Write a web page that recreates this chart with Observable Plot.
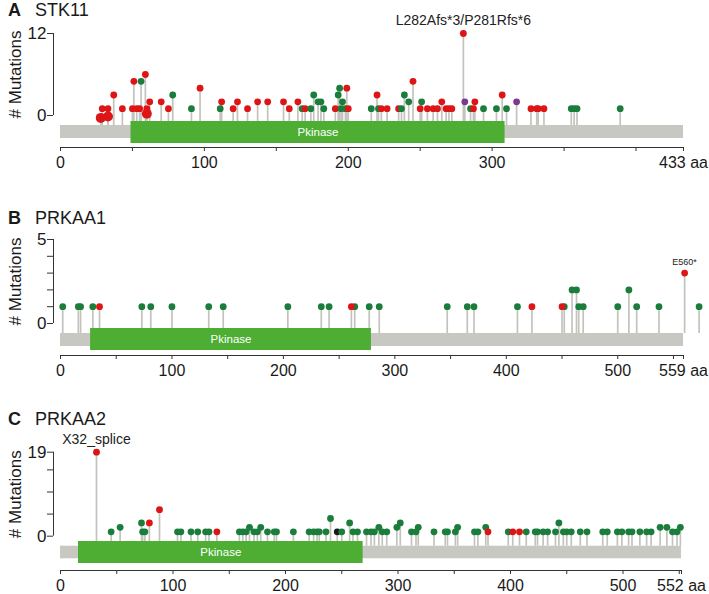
<!DOCTYPE html>
<html><head><meta charset="utf-8">
<script src="https://cdn.jsdelivr.net/npm/d3@7"></script>
<script src="https://cdn.jsdelivr.net/npm/@observablehq/plot@0.6"></script>
<style>
body{margin:0;background:#fff;}
#wrap{position:relative;width:709px;height:594px;overflow:hidden;font-family:"Liberation Sans",Arial,Helvetica,sans-serif;color:#1a1a1a;}
.panel{position:absolute;left:0;}
.title{position:absolute;left:8px;font-size:18px;line-height:18px;white-space:nowrap;}
.title b{display:inline-block;width:27px;}
</style></head><body><div id="wrap"></div>
<script>
// ---------- DATA ----------
// Panel A: STK11 (433 aa), Pkinase 49-309
const stk11Pos   = [29,33,37,43,50,51,53,55,56,59,60,62,70,75,78,91,97,111,112,120,123,130,137,144,155,159,165,168,170,174,176,179,181,183,191,193,194,195,196,198,199,200,216,220,221,223,227,235,237,239,242,245,250,251,255,259,262,265,268,270,272,280,281,285,287,288,294,303,307,310,317,327,331,332,336,355,357,359,389];
const stk11Count = [1,1,3,1,1,5,1,1,5,6,1,2,2,1,3,1,4,1,2,1,2,1,2,2,2,1,2,1,1,1,3,2,2,1,1,3,4,1,2,1,4,1,1,3,1,1,1,1,1,3,2,5,1,2,1,1,1,2,1,1,1,12,2,1,1,2,1,1,3,1,2,1,1,1,1,1,1,1,1];
const stk11Type  = ["t","t","t","t","t","t","t","t","m","t","t","t","t","t","m","m","t","m","t","t","t","t","t","t","t","t","t","m","t","m","m","m","m","m","t","m","m","m","m","m","t","t","m","t","m","t","t","t","m","m","m","t","t","m","t","t","t","t","t","t","t","t","i","m","t","t","m","m","t","m","i","t","t","t","t","m","m","m","m"];
const stk11BigPos   = [28,33,60];
const stk11BigCount = [-0.35,-0.15,0.25];
const stk11Label = {pos:280, count:12, text:"L282Afs*3/P281Rfs*6"};

// Panel B: PRKAA1 (559 aa), Pkinase 27-279
const prkaa1Pos   = [2,16,18,29,35,73,81,100,133,146,204,234,241,264,261,277,286,347,365,371,410,423,452,450,459,463,465,469,500,510,517,537,560,573];
const prkaa1Count = [1,1,1,1,1,1,1,1,1,1,1,1,1,1,1,1,1,1,1,1,1,1,1,1,2,2,1,1,1,2,1,1,3,1];
const prkaa1Type  = ["m","m","m","m","t","m","m","m","m","m","m","m","m","m","t","m","m","m","m","m","m","t","m","t","m","m","m","m","m","m","m","m","t","m"];
const prkaa1Label = {pos:560, count:3, text:"E560*"};

// Panel C: PRKAA2 (552 aa), Pkinase 16-269
const prkaa2Pos   = [32,45,53,72,73,75,79,88,104,107,116,122,129,132,139,159,162,165,168,172,175,178,184,190,192,207,221,225,228,230,236,240,246,250,257,260,264,272,276,279,283,286,290,299,302,312,316,318,332,342,344,351,353,368,371,378,380,398,402,408,414,422,424,429,433,440,443,447,450,454,462,468,482,486,495,499,505,508,515,521,525,533,539,544,548,551];
const prkaa2Count = [19,1,2,3,1,1,3,6,1,1,1,1,1,1,1,1,1,1,2,1,1,2,1,1,1,1,1,1,1,1,1,4,1,1,3,1,1,1,1,1,2,1,1,2,3,1,1,2,1,1,1,1,2,1,1,2,1,1,1,1,1,1,1,1,1,1,3,1,1,1,1,1,1,1,1,1,1,1,1,1,1,2,2,1,1,2];
const prkaa2Type  = ["t","m","m","m","m","m","t","t","m","m","m","m","m","m","t","m","m","m","m","m","m","m","m","m","m","m","m","m","m","m","m","m","k","m","m","m","m","m","m","m","m","m","m","m","m","m","m","m","m","m","m","m","m","m","m","m","t","m","t","t","m","m","m","m","m","m","m","m","m","m","m","m","m","m","m","m","m","m","m","m","m","m","m","m","m","m"];
const prkaa2Label = {pos:32, count:19, text:"X32_splice"};

// tick values / labels
const stk11XTicks  = [0,50,100,150,200,250,300,350,400,433];
const stk11XLabels = [0,100,200,300,433];
const prkaa1XTicks  = [0,50,100,150,200,250,300,350,400,450,500,550,559];
const prkaa1XLabels = [0,100,200,300,400,500,559];
const prkaa2XTicks  = [0,50,100,150,200,250,300,350,400,450,500,550,552];
const prkaa2XLabels = [0,100,200,300,400,500,552];
const stk11YTicks = [0,12], stk11YLabels = [0,12];
const prkaa1YTicks = [0,1,2,3,4,5], prkaa1YLabels = [0,5];
const prkaa2YTicks = [0,5,10,15,19], prkaa2YLabels = [0,19];

// ---------- STYLE ----------
const FONT = '"Liberation Sans", Arial, Helvetica, sans-serif';
const RED = "#dd1516", GREEN = "#1b7d3b", PURPLE = "#7b3a8e", BLACK = "#1a1a1a";
const STEM = "#c3c3be", BAR = "#c8c8c2", BOX = "#4dae33", AXIS = "#333333";

const panels = [
  {letter:"A", gene:"STK11", len:433, max:12, pos:stk11Pos, count:stk11Count, type:stk11Type,
   bigPos:stk11BigPos, bigCount:stk11BigCount, label:stk11Label, labelSize:14, labelDy:-13,
   xTicks:stk11XTicks, xLabels:stk11XLabels, yTicks:stk11YTicks, yLabels:stk11YLabels,
   dom:[49,309], svgTop:0, svgH:190, topPx:33, zeroPx:115, axisPx:147, gray:[125,138], box:[121,143], mr:26, titleTop:1},
  {letter:"B", gene:"PRKAA1", len:559, max:5, pos:prkaa1Pos, count:prkaa1Count, type:prkaa1Type,
   bigPos:[], bigCount:[], label:prkaa1Label, labelSize:9, labelDy:-11,
   xTicks:prkaa1XTicks, xLabels:prkaa1XLabels, yTicks:prkaa1YTicks, yLabels:prkaa1YLabels,
   dom:[27,279], svgTop:190, svgH:190, topPx:239, zeroPx:323, axisPx:355, gray:[333,346], box:[328,350], mr:26, titleTop:209},
  {letter:"C", gene:"PRKAA2", len:552, max:19, pos:prkaa2Pos, count:prkaa2Count, type:prkaa2Type,
   bigPos:[], bigCount:[], label:prkaa2Label, labelSize:14, labelDy:-13,
   xTicks:prkaa2XTicks, xLabels:prkaa2XLabels, yTicks:prkaa2YTicks, yLabels:prkaa2YLabels,
   dom:[16,269], svgTop:380, svgH:214, topPx:451.7, zeroPx:535.7, axisPx:570, gray:[545.7,558.3], box:[541,563], mr:28, titleTop:410}
];

const wrap = document.getElementById("wrap");

function makePanel(c) {
  const unit = (c.zeroPx - c.topPx) / c.max;
  const yMin = -(c.axisPx - c.zeroPx) / unit;
  const stemBase = -(c.gray[0] - c.zeroPx) / unit;
  const marginTop = c.topPx - c.svgTop;
  const marginBottom = c.svgTop + c.svgH - c.axisPx;
  const muts = c.pos.map((p, i) => ({pos: p, count: c.count[i], type: c.type[i]}));
  const big = c.bigPos.map((p, i) => ({pos: p, count: c.bigCount[i]}));
  const fmtX = d => c.xLabels.includes(d) ? (d === c.len ? d + " aa" : String(d)) : "";
  const fmtY = d => c.yLabels.includes(d) ? String(d) : "";
  return Plot.plot({
    width: 709, height: c.svgH,
    marginLeft: 60, marginRight: c.mr, marginTop, marginBottom,
    x: {domain: [0, c.len]},
    y: {domain: [yMin, c.max]},
    color: {domain: ["t","m","i","k"], range: [RED, GREEN, PURPLE, BLACK]},
    style: {fontFamily: FONT, fontSize: "16px", color: "#1a1a1a", background: "transparent", overflow: "visible"},
    marks: [
      Plot.ruleX(muts.concat(big), {x: "pos", y1: () => stemBase, y2: "count", stroke: STEM, strokeWidth: 1.7}),
      Plot.rect([{start: 0, end: c.len}], {x1: "start", x2: "end", insetTop: c.gray[0] - c.topPx, insetBottom: c.axisPx - c.gray[1], fill: BAR}),
      Plot.rect([{start: c.dom[0], end: c.dom[1]}], {x1: "start", x2: "end", insetTop: c.box[0] - c.topPx, insetBottom: c.axisPx - c.box[1], fill: BOX}),
      Plot.text(["Pkinase"], {x: () => (c.dom[0] + c.dom[1]) / 2, frameAnchor: "top", dy: (c.box[0] + c.box[1]) / 2 - c.topPx, text: d => d, fill: "white", fontSize: 11.5, lineAnchor: "middle"}),
      Plot.dot(big, {x: "pos", y: "count", r: 5, fill: RED}),
      Plot.dot(muts, {x: "pos", y: "count", fill: "type", r: 3.4}),
      Plot.text([c.label], {x: "pos", y: "count", text: "text", dy: c.labelDy, fontSize: c.labelSize, fill: "#222", lineAnchor: "middle"}),
      Plot.ruleY([yMin], {y: d => d, x1: () => 0, x2: () => c.len, stroke: AXIS}),
      Plot.axisX({ticks: c.xTicks, tickFormat: fmtX, tickSize: 4, tickPadding: 5, fontSize: 16, stroke: AXIS, fill: "#1a1a1a", label: null}),
      Plot.ruleX([0], {x: d => d, y1: () => 0, y2: () => c.max, dx: -7, stroke: AXIS}),
      Plot.axisY({ticks: c.yTicks, tickFormat: fmtY, tickSize: 6, tickPadding: 1, dx: -7, fontSize: 17, stroke: AXIS, fill: "#1a1a1a", label: null}),
      Plot.text(["# Mutations"], {x: () => 0, y: () => c.max / 2, text: d => d, rotate: -90, dx: -45, fontSize: 17, fill: "#1a1a1a", lineAnchor: "middle"})
    ]
  });
}

for (const c of panels) {
  const div = document.createElement("div");
  div.className = "panel";
  div.style.top = c.svgTop + "px";
  div.appendChild(makePanel(c));
  wrap.appendChild(div);
  const t = document.createElement("div");
  t.className = "title";
  t.style.top = c.titleTop + "px";
  t.innerHTML = "<b>" + c.letter + "</b>" + c.gene;
  wrap.appendChild(t);
}
</script></body></html>
